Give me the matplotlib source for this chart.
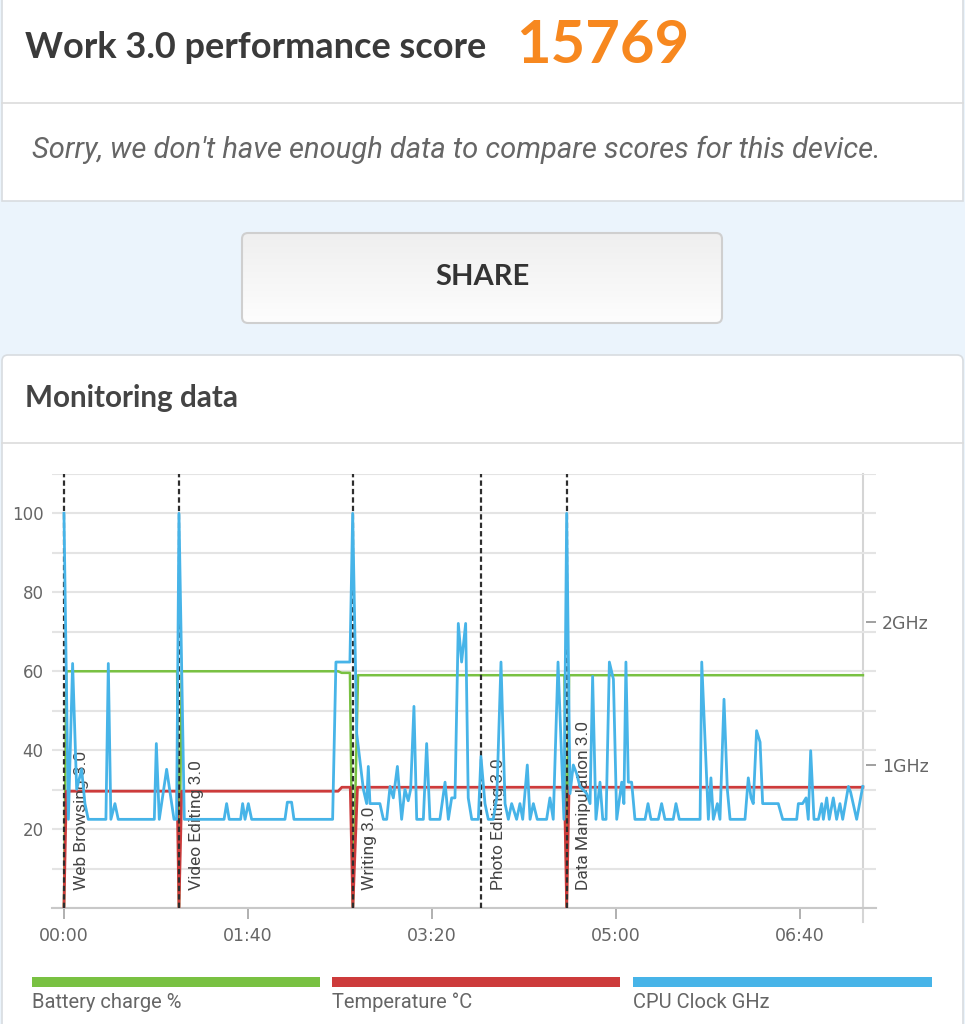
import numpy as np
import matplotlib
matplotlib.use('Agg')
import matplotlib.pyplot as plt
from matplotlib.patches import Rectangle, FancyBboxPatch
from matplotlib.colors import LinearSegmentedColormap

# data (time in minutes since start)
test_names = ['Web Browsing 3.0', 'Video Editing 3.0', 'Writing 3.0',
              'Photo Editing 3.0', 'Data Manipulation 3.0']
test_starts = [0.0, 62.5, 156.9, 226.6, 273.2]

batt_time = [0.0, 1.3, 61.5, 62.5, 64.0, 149.0, 150.9, 155.4, 157.0,
             159.8, 272.0, 273.2, 274.5, 434.2]
batt_pct = [0, 60, 60, 0, 60, 60, 59.6, 59.6, 0,
            59, 59, 0, 59, 59]

temp_time = [0.0, 1.3, 61.5, 62.5, 64.0, 149.0, 151.0, 155.6, 157.0,
             159.5, 272.0, 273.2, 274.5, 434.2]
temp_c = [0, 29.6, 29.6, 0, 29.6, 29.6, 30.6, 30.6, 0,
          30.6, 30.6, 0, 30.6, 30.6]

cpu_time = [0, 2.4, 4.7, 6.9, 9.6, 11.4, 13.2, 22.8, 24.1, 25.5,
            27.7, 29.5, 49.1, 50.2, 51.8, 55.8, 59.8, 61.2, 62.5, 65.4,
            87.0, 88.4, 89.8, 96.0, 97.1, 98.4, 100.2, 102.0, 120.1, 121.4,
            123.7, 125.0, 146.0, 147.8, 155.4, 156.9, 159.1, 162.7, 164.5, 165.4,
            166.3, 171.7, 173.6, 175.4, 177.2, 179.0, 181.2, 183.5, 185.3, 187.1,
            188.4, 190.2, 191.7, 195.3, 197.1, 198.9, 204.3, 207.1, 208.9, 210.7,
            212.5, 214.3, 216.1, 218.3, 219.7, 221.6, 225.2, 226.6, 228.8, 230.6,
            233.3, 235.2, 237.5, 239.7, 241.5, 243.3, 246.0, 247.8, 249.3, 251.8,
            253.3, 255.1, 257.2, 262.3, 264.1, 265.9, 268.5, 270.3, 271.7, 273.2,
            275.0, 276.8, 278.6, 280.4, 284.1, 285.9, 287.3, 289.1, 291.3, 292.8,
            294.6, 296.4, 298.6, 300.4, 303.1, 304.3, 305.4, 306.7, 308.5, 310.3,
            315.8, 317.4, 319.0, 323.0, 324.8, 326.6, 331.1, 332.6, 334.4, 345.7,
            346.6, 350.2, 351.6, 352.9, 355.1, 356.5, 358.7, 360.5, 362.0, 370.1,
            371.9, 373.4, 374.6, 376.4, 378.3, 379.7, 388.2, 390.6, 398.2, 399.1,
            401.4, 403.3, 404.5, 405.8, 407.6, 410.0, 411.8, 412.7, 414.5, 415.9,
            418.1, 419.9, 421.7, 423.2, 426.3, 427.5, 430.8, 434.1]
cpu_ghz = [2.76, 0.62, 1.71, 0.83, 0.97, 0.73, 0.62, 0.62, 1.71, 0.62,
           0.73, 0.62, 0.62, 1.15, 0.62, 0.97, 0.62, 0.62, 2.76, 0.62,
           0.62, 0.73, 0.62, 0.62, 0.73, 0.62, 0.73, 0.62, 0.62, 0.74,
           0.74, 0.62, 0.62, 1.72, 1.72, 2.76, 1.22, 0.83, 0.73, 0.99,
           0.73, 0.73, 0.62, 0.62, 0.85, 0.77, 0.99, 0.62, 0.83, 0.75,
           0.83, 1.41, 0.62, 0.62, 1.15, 0.62, 0.62, 0.88, 0.62, 0.77,
           0.77, 1.99, 1.72, 1.99, 0.77, 0.62, 0.62, 1.06, 0.73, 0.62,
           0.62, 0.77, 1.72, 0.73, 0.62, 0.73, 0.62, 0.73, 0.62, 1.00,
           0.62, 0.73, 0.62, 0.62, 0.77, 0.62, 1.72, 1.11, 0.62, 2.76,
           0.80, 1.00, 0.94, 0.85, 0.80, 0.73, 1.62, 0.62, 0.88, 0.62,
           0.62, 1.72, 1.60, 0.62, 0.88, 0.73, 1.72, 0.88, 0.88, 0.62,
           0.62, 0.73, 0.62, 0.62, 0.73, 0.62, 0.62, 0.73, 0.62, 0.62,
           1.72, 0.62, 0.91, 0.62, 0.73, 0.62, 1.46, 0.83, 0.62, 0.62,
           0.91, 0.77, 0.73, 1.24, 1.16, 0.73, 0.73, 0.62, 0.62, 0.73,
           0.73, 0.77, 0.62, 1.10, 0.62, 0.62, 0.73, 0.62, 0.77, 0.62,
           0.77, 0.62, 0.73, 0.62, 0.85, 0.81, 0.62, 0.85]

xtick_min = [0, 100, 200, 300, 400]
xtick_labels = ['00:00', '01:40', '03:20', '05:00', '06:40']
score = '15769'

c_batt, c_temp, c_cpu = '#79c142', '#cd3b3b', '#47b4e8'
grey = '#666666'

# page background and cards (pixel coordinates)
W, H = 965, 1024
fig = plt.figure(figsize=(W / 100, H / 100), dpi=100, facecolor='#ebf4fc')
bg = fig.add_axes([0, 0, 1, 1], zorder=0)
bg.set_axis_off()

bg.add_patch(Rectangle((1.5, -5), 961.5, 206, fc='white', ec='#d8dce0', lw=1.2))
bg.plot([1.5, 963], [103, 103], color='#dcdcdc', lw=1.2)
bg.add_patch(FancyBboxPatch((2, 355), 961, 700, boxstyle='round,pad=0,rounding_size=6',
                            fc='white', ec='#d8dce0', lw=1.2))
bg.plot([2, 963], [443, 443], color='#dcdcdc', lw=1.2)

# share button with soft gradient
btn = FancyBboxPatch((242, 233), 480, 90, boxstyle='round,pad=0,rounding_size=6',
                     fc='none', ec='#cfcfcf', lw=1.5, zorder=3)
bg.add_patch(btn)
cmap = LinearSegmentedColormap.from_list('btn', ['#efefef', '#fdfdfd'])
im = bg.imshow(np.linspace(0, 1, 64).reshape(-1, 1), cmap=cmap, aspect='auto',
               extent=(242, 722, 323, 233), origin='upper', zorder=2)
im.set_clip_path(btn)

bg.set_xlim(0, W)
bg.set_ylim(H, 0)

bg.text(25, 48, 'Work 3.0 performance score', family='Lato', weight='bold',
        fontsize=26, color='#3a3a3a', va='center', ha='left')
bg.text(516, 46, score, family='Lato', weight='bold', fontsize=43,
        color='#f7881f', va='center', ha='left')
bg.text(32, 150, "Sorry, we don't have enough data to compare scores for this device.",
        family='Roboto', style='italic', fontsize=21, color='#666666',
        va='center', ha='left')
bg.text(482, 277, 'SHARE', family='Lato', weight='bold', fontsize=21,
        color='#333333', va='center', ha='center', zorder=4)
bg.text(25, 398, 'Monitoring data', family='Lato', weight='bold', fontsize=21.3,
        color='#444444', va='center', ha='left')

# right axis line of the chart
bg.plot([863, 863], [474, 922], color='#d5d5d5', lw=1.5, zorder=1)

# legend bars
legend = [('Battery charge %', c_batt, 32, 320),
          ('Temperature °C', c_temp, 332, 620),
          ('CPU Clock GHz', c_cpu, 633, 932)]
for label, col, x0, x1 in legend:
    bg.add_patch(Rectangle((x0, 977), x1 - x0, 10, fc=col, ec='none'))
    bg.text(x0, 1002, label, family='Roboto', fontsize=14.5, color=grey,
            va='center', ha='left')

# monitoring chart
ax = fig.add_axes([52 / W, (H - 908) / H, 824 / W, 434 / H], zorder=1)
ax.patch.set_visible(False)
ax.set_xlim(-6.5, 441.3)
ax.set_ylim(0, 110)

ax.set_yticks(range(0, 111, 10))
ax.set_yticklabels(['' if v % 20 or v == 0 or v > 100 else str(v)
                    for v in range(0, 111, 10)])
ax.yaxis.grid(True, color='#e4e4e4', lw=1.5)
ax.set_axisbelow(True)
ax.tick_params(axis='y', length=0, pad=6, labelsize=12, labelcolor=grey)
ax.set_xticks(xtick_min)
ax.set_xticklabels(xtick_labels)
ax.tick_params(axis='x', length=8, width=1.3, color='#aaaaaa', pad=6,
               labelsize=12.5, labelcolor=grey)
for s in ['top', 'left', 'right']:
    ax.spines[s].set_visible(False)
ax.spines['bottom'].set_color('#c8c8c8')
ax.spines['bottom'].set_linewidth(1.5)

ax.plot(batt_time, batt_pct, color=c_batt, lw=1.8, zorder=2)
ax.plot(temp_time, temp_c, color=c_temp, lw=2.0, zorder=3)
ax.vlines(test_starts, 0, 110, colors='#2e2e2e', linestyles=(0, (2.4, 1.4)),
          lw=1.6, zorder=4)
for name, t in zip(test_names, test_starts):
    ax.annotate(name, xy=(t, 0), xytext=(7, 13), textcoords='offset points',
                rotation=90, ha='left', va='bottom', family='Roboto',
                fontsize=12.5, color='#444444', zorder=5)

ax2 = ax.twinx()
ax2.set_zorder(2)
ax2.patch.set_visible(False)
ax2.set_ylim(0, 3.035)
ax2.set_yticks([1, 2])
ax2.set_yticklabels(['1GHz', '2GHz'])
ax2.tick_params(axis='y', direction='in', length=7, width=1.3, color='#999999',
                pad=4.5, labelsize=12.5, labelcolor=grey)
for s in ax2.spines.values():
    s.set_visible(False)
ax2.plot(cpu_time, cpu_ghz, color=c_cpu, lw=2.0, zorder=3)

fig.savefig('out.png', dpi=100, facecolor=fig.get_facecolor())
